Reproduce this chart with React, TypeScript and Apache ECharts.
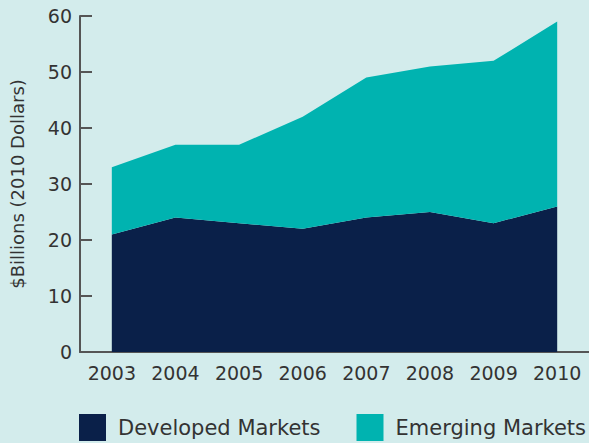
import React, { useEffect, useRef } from "react";
import * as echarts from "echarts";

const years = ["2003", "2004", "2005", "2006", "2007", "2008", "2009", "2010"];
const developed = [21, 24, 23, 22, 24, 25, 23, 26];
const emerging = [12, 13, 14, 20, 25, 26, 29, 33];
const seriesNames = ["Developed Markets", "Emerging Markets"];

const FONT = "DejaVu Sans";
const TEXT = "#333333";

export default function App() {
  const ref = useRef<HTMLDivElement>(null);
  useEffect(() => {
    if (!ref.current) return;
    const chart = echarts.init(ref.current, null, { renderer: "svg" });
    chart.setOption({
      animation: false,
      backgroundColor: "#d3ecec",
      grid: { left: 79, right: -2, top: 16, bottom: 91, containLabel: false },
      legend: {
        left: 79,
        top: 414,
        padding: 0,
        itemWidth: 27,
        itemHeight: 27,
        itemGap: 36,
        icon: "rect",
        textStyle: { fontFamily: FONT, fontSize: 21, color: TEXT, padding: [2, 0, 0, 7] },
        data: seriesNames,
      },
      xAxis: {
        type: "category",
        data: years,
        boundaryGap: true,
        axisLine: { lineStyle: { color: "#555555", width: 2 } },
        axisTick: { inside: true, length: 7, lineStyle: { color: "#333333", width: 1 } },
        axisLabel: { fontFamily: FONT, fontSize: 19, color: TEXT, margin: 11 },
      },
      yAxis: {
        type: "value",
        min: 0,
        max: 60,
        interval: 10,
        name: "$Billions (2010 Dollars)",
        nameLocation: "middle",
        nameGap: 54,
        nameTextStyle: { fontFamily: FONT, fontSize: 18, color: TEXT },
        splitLine: { show: false },
        axisLine: { show: true, lineStyle: { color: "#555555", width: 2 } },
        axisTick: { show: true, inside: true, length: 12, lineStyle: { color: "#555555", width: 2 } },
        axisLabel: { fontFamily: FONT, fontSize: 19, color: TEXT, margin: 8 },
      },
      series: [
        {
          name: seriesNames[0],
          type: "line",
          stack: "total",
          data: developed,
          symbol: "none",
          lineStyle: { width: 0 },
          itemStyle: { color: "#0a2049" },
          areaStyle: { color: "#0a2049", opacity: 1 },
        },
        {
          name: seriesNames[1],
          type: "line",
          stack: "total",
          data: emerging,
          symbol: "none",
          lineStyle: { width: 0 },
          itemStyle: { color: "#00b3b0" },
          areaStyle: { color: "#00b3b0", opacity: 1 },
        },
      ],
    });
    return () => chart.dispose();
  }, []);
  return (
    <div
      ref={ref}
      style={{ width: 589, height: 443, position: "fixed", left: 0, top: 0 }}
    />
  );
}
